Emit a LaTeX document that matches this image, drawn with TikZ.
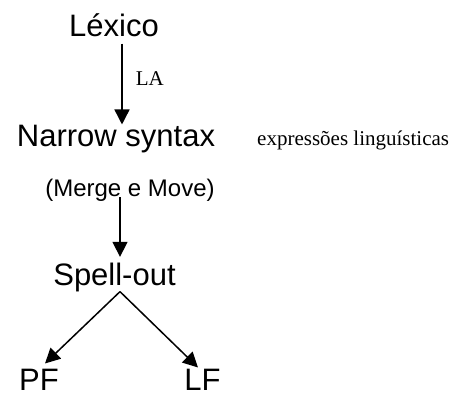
\documentclass[tikz,border=0pt]{standalone}
\usepackage{fontspec}
\setmainfont{Liberation Serif}
\setsansfont{Liberation Sans}
\usetikzlibrary{arrows.meta,positioning}

\begin{document}
\begin{tikzpicture}[x=1pt, y=-1pt,
  big/.style={font=\sffamily\fontsize{31}{36}\selectfont, inner sep=0pt, anchor=base},
  mid/.style={font=\sffamily\fontsize{24}{28}\selectfont, inner sep=0pt, anchor=base},
  small/.style={font=\fontsize{21}{24}\selectfont, inner sep=0pt},
  arr/.style={-{Triangle[length=15pt,width=15pt]}, line width=1.5pt}]
  \useasboundingbox (0,0) rectangle (460,397);
  \node[big] (lexico) at (114,36) {Léxico};
  \node[big] (narrow) at (116,146) {Narrow syntax};
  \node[small, anchor=base west] (expr) at (257,145) {expressões linguísticas};
  \node[mid] (merge) at (130,196) {(Merge e Move)};
  \node[big] (spell) at (114.5,285) {Spell-out};
  \node[big] (pf) at (39,390) {PF};
  \node[big] (lf) at (202.5,390) {LF};
  % derivation
  \draw[arr] ([xshift=8pt,yshift=-7pt]lexico.south) -- ([xshift=8pt]lexico.south |- narrow.north)
    node[midway, right=13pt, yshift=5pt, small] {LA};
  \draw[arr] ([xshift=-10pt,yshift=-1pt]merge.base) -- ([xshift=-10pt,yshift=5.5pt]merge.base |- spell.north);
  \draw[arr] ([xshift=5.5pt]spell.south) -- ([shift={(6pt,5pt)}]pf.north);
  \draw[arr] ([xshift=5.5pt]spell.south) -- ([shift={(-4.5pt,1pt)}]lf.north);
\end{tikzpicture}
\end{document}
